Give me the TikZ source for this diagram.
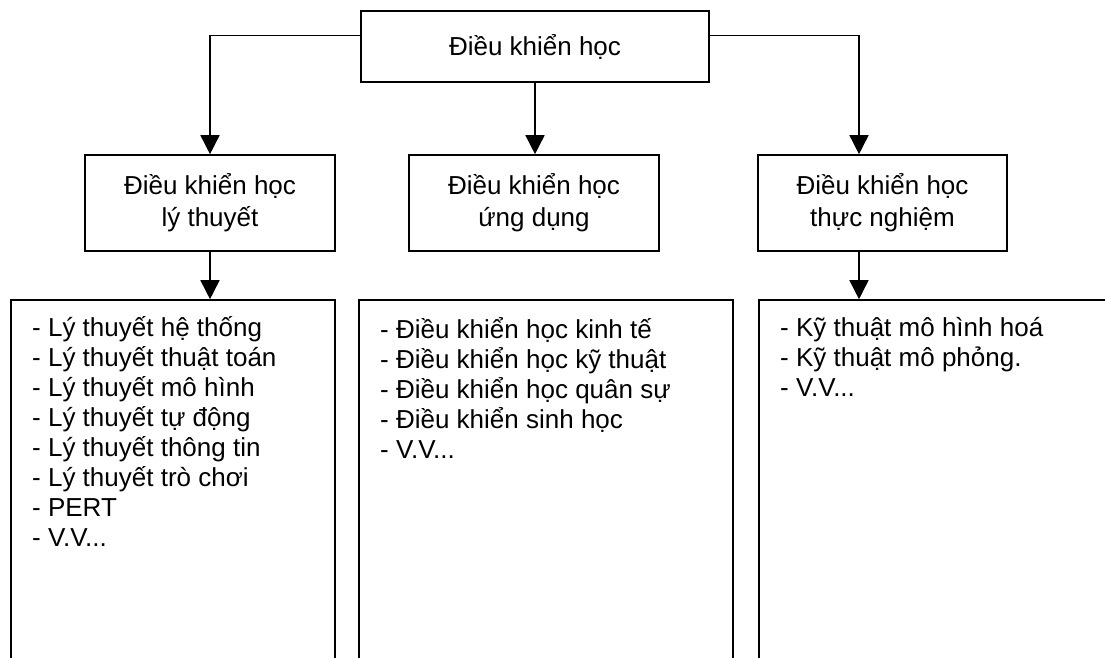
\documentclass[tikz,border=0pt]{standalone}
\usepackage{fontspec}
\setmainfont{Liberation Sans}
\usetikzlibrary{arrows.meta}
\begin{document}
\begin{tikzpicture}[x=1pt,y=-1pt,
  every node/.style={font=\fontsize{26}{30}\selectfont},
  box/.style={draw, line width=1.6pt, rectangle, inner sep=0pt},
  twoline/.style={box, align=center, font=\fontsize{26}{32}\selectfont},
  listtext/.style={align=left, anchor=north west, inner sep=0pt},
  arr/.style={line width=1.6pt, -{Triangle[length=19pt,width=19pt]}}]
\useasboundingbox (0,0) rectangle (1105,658);
\clip (0,0) rectangle (1105,658);
\fill[white] (0,0) rectangle (1105,658);
% top
\node[box, minimum width=348pt, minimum height=71pt] (top) at (535,46.5) {Điều khiển học};
% middle row
\node[twoline, minimum width=250pt, minimum height=96pt] (lt) at (210,203) {Điều khiển học\\lý thuyết};
\node[twoline, minimum width=250pt, minimum height=96pt] (md) at (534,203) {Điều khiển học\\ứng dụng};
\node[twoline, minimum width=249pt, minimum height=96pt] (rt) at (882.5,203) {Điều khiển học\\thực nghiệm};
% bottom row
\node[box, minimum width=324pt, minimum height=420pt] (bl) at (173,510) {};
\node[box, minimum width=374pt, minimum height=420pt] (bm) at (546,510) {};
\node[box, minimum width=391pt, minimum height=420pt] (br) at (954.5,510) {};
% lists
\node[listtext] (tl) at (32,316) {- Lý thuyết hệ thống\\- Lý thuyết thuật toán\\- Lý thuyết mô hình\\- Lý thuyết tự động\\- Lý thuyết thông tin\\- Lý thuyết trò chơi\\- PERT\\- V.V...};
\node[listtext] (tm) at (380,317) {- Điều khiển học kinh tế\\- Điều khiển học kỹ thuật\\- Điều khiển học quân sự\\- Điều khiển sinh học\\- V.V...};
\node[listtext] (tr) at (780,317) {- Kỹ thuật mô hình hoá\\- Kỹ thuật mô phỏng.\\- V.V...};
% connectors
\draw[arr] ([yshift=11pt]top.west) -| (lt.north);
\draw[arr] (top.south) -- (top.south |- md.north);
\draw[arr] ([yshift=11pt]top.east) -| ([xshift=-23.5pt]rt.north);
\draw[arr] (lt.south) -- (lt.south |- bl.north);
\draw[arr] ([xshift=-23.5pt]rt.south) -- ([xshift=-23.5pt]rt.south |- br.north);
\end{tikzpicture}
\end{document}
